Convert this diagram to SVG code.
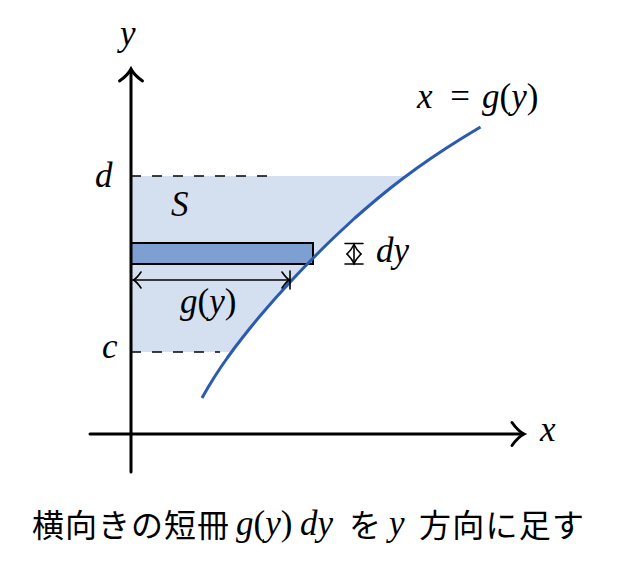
<svg xmlns="http://www.w3.org/2000/svg" width="617" height="577" viewBox="0 0 617 577">
<style>
.m{font-family:"Liberation Serif","DejaVu Serif",serif;font-style:italic;font-size:35px;fill:#000}
.u{font-style:normal}
.ax{stroke:#000;stroke-width:3;fill:none;stroke-linecap:round}
.dash{stroke:#000;stroke-width:1.6;stroke-dasharray:10 11;fill:none}
.thin{stroke:#000;stroke-width:1.6;fill:none;stroke-linecap:round}
.cap{font-family:"Noto Sans CJK JP","Noto Sans",sans-serif;font-size:32px;fill:#000}
</style>
<rect width="617" height="577" fill="#fff"/>
<g id="region">
<path d="M131,176 L405.5,176 L403.5,178 L390.5,188 L378.2,198 L366.4,208 L354.9,218 L344.1,228 L333.4,238 L323.1,248 L313.2,258 L303.4,268 L293.9,278 L284.7,288 L275.6,298 L266.9,308 L258.3,318 L250.1,328 L242.2,338 L234.5,348 L231.5,352 L131,352 Z" fill="#d4dff0"/>
</g>
<g id="guides">
<line class="dash" x1="131" y1="176" x2="270" y2="176"/>
<line class="dash" x1="131" y1="352" x2="220" y2="352"/>
</g>
<g id="strip">
<rect x="131" y="243" width="182" height="21" fill="#7e9fd2" stroke="#000" stroke-width="2"/>
</g>
<g id="axes">
<line class="ax" x1="131" y1="472" x2="131" y2="70"/>
<path class="ax" d="M119.5,81 Q128,75 131,69 Q134,75 142.5,81"/>
<line class="ax" x1="90" y1="434" x2="523" y2="434"/>
<path class="ax" d="M512,422.5 Q518,431 524,434 Q518,437 512,445.5"/>
</g>
<g id="curve">
<polyline points="202,398 207.7,388 213.8,378 220.3,368 227.2,358 234.5,348 242.2,338 250.1,328 258.3,318 266.9,308 275.6,298 284.7,288 293.9,278 303.4,268 313.2,258 323.1,248 333.4,238 344.1,228 354.9,218 366.4,208 378.2,198 390.5,188 403.5,178 417.1,168 431.4,158 446.5,148 462.3,138 480.5,127" fill="none" stroke="#2a5bb0" stroke-width="3" stroke-linejoin="round"/>
</g>
<g id="connectors">
<g id="gy-arrow">
<line class="thin" x1="133" y1="280" x2="290" y2="280"/>
<path class="thin" d="M141,272 Q137,278 133.5,280 Q137,282 141,288"/>
<path class="thin" d="M282,272 Q286,278 289.5,280 Q286,282 282,288"/>
<line class="thin" x1="290" y1="271" x2="290" y2="289"/>
</g>
<g id="dy-arrow">
<line class="thin" x1="345" y1="243.5" x2="363" y2="243.5"/>
<line class="thin" x1="345" y1="264" x2="363" y2="264"/>
<line class="thin" x1="354" y1="244" x2="354" y2="264"/>
<path class="thin" d="M347,254 Q352,249 354,244.5 Q356,249 361,254"/>
<path class="thin" d="M347,254 Q352,259 354,263.5 Q356,259 361,254"/>
</g>
</g>
<g id="labels">
<text class="m" x="120" y="45">y</text>
<text class="m" x="540" y="441">x</text>
<text class="m" x="95" y="187">d</text>
<text class="m" x="102" y="358">c</text>
<text class="m" x="171" y="216">S</text>
<text class="m" x="180" y="313">g<tspan class="u">(</tspan>y<tspan class="u">)</tspan></text>
<text class="m" x="376" y="262">dy</text>
<text class="m" x="417" y="108">x</text>
<text class="m u" x="460" y="108" text-anchor="middle">=</text>
<text class="m" x="482" y="108">g<tspan class="u">(</tspan>y<tspan class="u">)</tspan></text>
</g>
<g id="caption">
<text class="cap" x="32" y="537" textLength="197" lengthAdjust="spacing">横向きの短冊</text>
<text class="m" x="236" y="535">g<tspan class="u">(</tspan>y<tspan class="u">)</tspan></text>
<text class="m" x="300" y="535">dy</text>
<text class="cap" x="349" y="537">を</text>
<text class="m" x="389" y="535">y</text>
<text class="cap" x="419" y="537" textLength="165" lengthAdjust="spacing">方向に足す</text>
</g>
</svg>
